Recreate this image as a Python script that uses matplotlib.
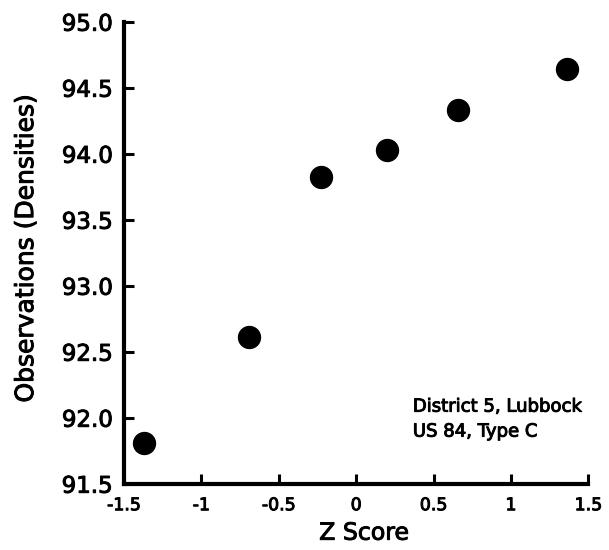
import matplotlib
matplotlib.use("Agg")
import matplotlib.pyplot as plt
import matplotlib.patheffects as pe

# normal-score plot, District 5 Lubbock, US 84 Type C
z_score = [-1.37, -0.69, -0.23, 0.20, 0.66, 1.36]
density = [91.81, 92.61, 93.82, 94.03, 94.33, 94.64]

x_ticks = [-1.5, -1, -0.5, 0, 0.5, 1, 1.5]
x_ticklabels = ["-1.5", "-1", "-0.5", "0", "0.5", "1", "1.5"]
y_ticks = [91.5, 92.0, 92.5, 93.0, 93.5, 94.0, 94.5, 95.0]
y_ticklabels = [f"{v:.1f}" for v in y_ticks]
note_lines = ["District 5, Lubbock", "US 84, Type C"]

# slightly heavier strokes than DejaVu regular, closer to the scanned look
heavy = [pe.withStroke(linewidth=0.7, foreground="black")]

fig = plt.figure(figsize=(6.09, 5.5), dpi=100)
ax = fig.add_axes([0.2036, 0.1205, 0.7625, 0.84])

ax.plot(z_score, density, "o", color="black", markersize=15.8, clip_on=False)

ax.set_xlim(-1.5, 1.5); ax.set_ylim(91.5, 95.0)
ax.set_xticks(x_ticks); ax.set_xticklabels(x_ticklabels, fontsize=12.5)
ax.set_yticks(y_ticks); ax.set_yticklabels(y_ticklabels, fontsize=16.5)
ax.tick_params(direction="in", length=7, width=2.2, color="black")
ax.tick_params(axis="x", pad=9)
ax.tick_params(axis="y", pad=8)
for t in ax.get_xticklabels() + ax.get_yticklabels():
    t.set_path_effects(heavy)

for s in ("top", "right"):
    ax.spines[s].set_visible(False)
for s in ("left", "bottom"):
    ax.spines[s].set_linewidth(3)

ax.set_xlabel("Z Score", fontsize=17, path_effects=heavy)
ax.xaxis.set_label_coords(0.517, -0.08)
ax.set_ylabel("Observations (Densities)", fontsize=18, path_effects=heavy)
ax.yaxis.set_label_coords(-0.185, 0.51)

for line, yy in zip(note_lines, [0.156, 0.102]):
    ax.text(0.622, yy, line, transform=ax.transAxes, fontsize=13,
            va="baseline", ha="left", path_effects=heavy)

fig.savefig("out.png", dpi=100)
